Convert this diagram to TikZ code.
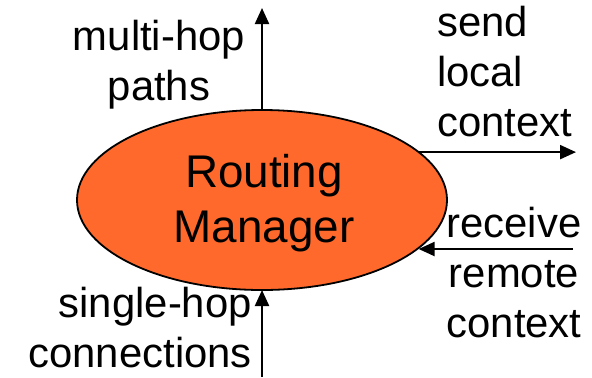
\documentclass[tikz,border=0pt]{standalone}
\usepackage{fontspec}
\setmainfont{Liberation Sans}
\usetikzlibrary{shapes.geometric,arrows.meta}
\definecolor{rmorange}{RGB}{255,106,44}
\tikzset{
  lbl/.style={font=\fontsize{42}{50}\selectfont, inner sep=0pt},
  conn/.style={line width=2.2bp, -{Triangle[length=16bp,width=14bp]}},
}
\begin{document}
\begin{tikzpicture}[x=1bp,y=-1bp]
\useasboundingbox (0,0) rectangle (592,377);
\node[ellipse, draw, line width=1.8bp, fill=rmorange, minimum width=370bp, minimum height=180bp, inner sep=0pt, outer sep=0pt] (rm) at (262,200) {};
\node[align=center, inner sep=0pt, font=\fontsize{46}{55}\selectfont] (rmtext) at (264,203) {Routing\\Manager};
\coordinate (topend) at (262,8);
\coordinate (botstart) at (262,377);
\coordinate (sendend) at (576,152);
\coordinate (recvstart) at (573,249);
\draw[conn] (rm.north) -- (topend);
\draw[conn] (botstart) -- (rm.south);
\draw[conn] (rm.17.3) -- (rm.17.3 -| sendend);
\draw[conn] (recvstart) -- (recvstart -| rm.-17.6);
\node[lbl, align=center, anchor=north] (mh) at (159,20) {multi-hop\\paths};
\node[lbl, align=left, anchor=north west] (sl) at (437,6) {send\\local\\context};
\node[lbl, align=center, anchor=north] (rr) at (514,207) {receive\\remote\\context};
\node[lbl, align=right, anchor=north east] (sh) at (252,287) {single-hop\\connections};
\end{tikzpicture}
\end{document}
